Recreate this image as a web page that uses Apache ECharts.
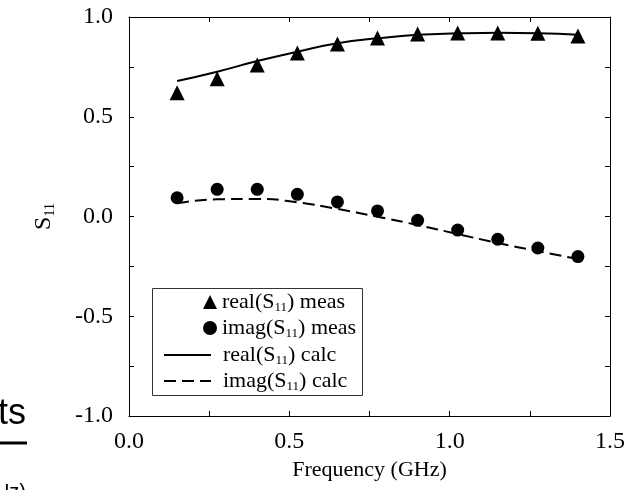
<!DOCTYPE html>
<html>
<head>
<meta charset="utf-8">
<script src="https://cdn.jsdelivr.net/npm/echarts@6/dist/echarts.min.js"></script>
<style>
  html, body { margin: 0; padding: 0; background: #fff; }
  #chart { width: 631px; height: 490px; }
</style>
</head>
<body>
<div id="chart"></div>
<script>
// frequency points (GHz)
var freq = [0.15, 0.275, 0.4, 0.525, 0.65, 0.775, 0.9, 1.025, 1.15, 1.275, 1.4];
// measured S11
var realMeas = [0.62, 0.69, 0.76, 0.82, 0.865, 0.895, 0.915, 0.92, 0.92, 0.918, 0.905];
var imagMeas = [0.094, 0.136, 0.136, 0.111, 0.073, 0.028, -0.019, -0.068, -0.114, -0.158, -0.201];
// calculated S11
var realCalc = [0.679, 0.726, 0.779, 0.826, 0.868, 0.893, 0.911, 0.918, 0.921, 0.919, 0.911];
var imagCalc = [0.066, 0.086, 0.088, 0.071, 0.038, -0.001, -0.043, -0.088, -0.133, -0.174, -0.213];

var xTicks = {min: 0, max: 1.5, step: 0.25};
var yTicks = {min: -1, max: 1, step: 0.25};

function pairs(ys) {
    return freq.map(function (f, i) { return [f, ys[i]]; });
}

var serif = "'Liberation Serif', 'DejaVu Serif', serif";

function tickLabel(v) {
    var h = v * 2;
    return Math.abs(h - Math.round(h)) < 1e-9 ? v.toFixed(1) : "";
}

function legendName(n) {
    return n.replace("S11", "S{sub|11}");
}

var axisCommon = {
    type: "value",
    axisLine: {show: true, onZero: false, lineStyle: {color: "#000", width: 1}},
    axisTick: {show: true, inside: true, length: 5, lineStyle: {color: "#000"}},
    splitLine: {show: false}
};

var legendText = {
    fontFamily: serif, fontSize: 22, color: "#000",
    rich: {sub: {fontFamily: serif, fontSize: 13, color: "#000", verticalAlign: "bottom", padding: [11, 0, 0, 0]}}
};

var option = {
    animation: false,
    backgroundColor: "#fff",
    grid: {left: 129, right: 21, top: 17, bottom: 74},
    xAxis: [
        Object.assign({}, axisCommon, {
            min: xTicks.min, max: xTicks.max, interval: xTicks.step,
            position: "bottom",
            name: "Frequency (GHz)", nameLocation: "middle", nameGap: 42,
            nameTextStyle: {fontFamily: serif, fontSize: 22, color: "#000"},
            axisLabel: {formatter: tickLabel, fontFamily: serif, fontSize: 24, color: "#000", margin: 14}
        }),
        Object.assign({}, axisCommon, {
            min: xTicks.min, max: xTicks.max, interval: xTicks.step,
            position: "top", axisLabel: {show: false}
        })
    ],
    yAxis: [
        Object.assign({}, axisCommon, {
            min: yTicks.min, max: yTicks.max, interval: yTicks.step,
            position: "left",
            name: "{s|S}{sub|11}", nameLocation: "middle", nameGap: 72, nameRotate: 90,
            nameTextStyle: {
                rich: {
                    s: {fontFamily: serif, fontSize: 24, color: "#000"},
                    sub: {fontFamily: serif, fontSize: 14, color: "#000", verticalAlign: "bottom", padding: [12, 0, 0, 0]}
                }
            },
            axisLabel: {formatter: tickLabel, fontFamily: serif, fontSize: 24, color: "#000", margin: 16}
        }),
        Object.assign({}, axisCommon, {
            min: yTicks.min, max: yTicks.max, interval: yTicks.step,
            position: "right", axisLabel: {show: false}
        })
    ],
    legend: [
        {
            data: ["real(S11) meas", "imag(S11) meas"],
            orient: "vertical", left: 203, top: 291, padding: 0,
            itemWidth: 14, itemHeight: 14, itemGap: 3,
            formatter: legendName, textStyle: legendText
        },
        {
            data: ["real(S11) calc", "imag(S11) calc"],
            orient: "vertical", left: 163, top: 344, padding: 0,
            itemWidth: 47, itemHeight: 14, itemGap: 3,
            itemStyle: {opacity: 0},
            formatter: legendName,
            textStyle: Object.assign({}, legendText, {padding: [0, 0, 0, 7]})
        }
    ],
    graphic: [
        {type: "rect", shape: {x: 152.5, y: 288.5, width: 210, height: 107},
            style: {fill: "none", stroke: "#333", lineWidth: 1}},
        {type: "text", x: 26, y: 414,
            style: {text: "ts", font: "36px 'Liberation Sans', Arial, sans-serif", fill: "#000", align: "right", verticalAlign: "middle"}},
        {type: "line", shape: {x1: 0, y1: 443, x2: 27, y2: 443},
            style: {stroke: "#000", lineWidth: 3}},
        {type: "text", x: 26, y: 482,
            style: {text: "Hz)", font: "20px 'Liberation Sans', Arial, sans-serif", fill: "#000", align: "right", verticalAlign: "top"}}
    ],
    series: [
        {name: "real(S11) meas", type: "scatter", symbol: "triangle", symbolSize: 15,
            itemStyle: {color: "#000", opacity: 1}, data: pairs(realMeas), z: 3},
        {name: "imag(S11) meas", type: "scatter", symbol: "circle", symbolSize: 13,
            itemStyle: {color: "#000", opacity: 1}, data: pairs(imagMeas), z: 3},
        {name: "real(S11) calc", type: "line", smooth: true, symbol: "none",
            lineStyle: {color: "#000", width: 2, type: "solid"}, itemStyle: {color: "#000"},
            data: pairs(realCalc)},
        {name: "imag(S11) calc", type: "line", smooth: true, symbol: "none",
            lineStyle: {color: "#000", width: 2, type: [12, 6]}, itemStyle: {color: "#000"},
            data: pairs(imagCalc)}
    ]
};

echarts.init(document.getElementById("chart")).setOption(option);
</script>
</body>
</html>
